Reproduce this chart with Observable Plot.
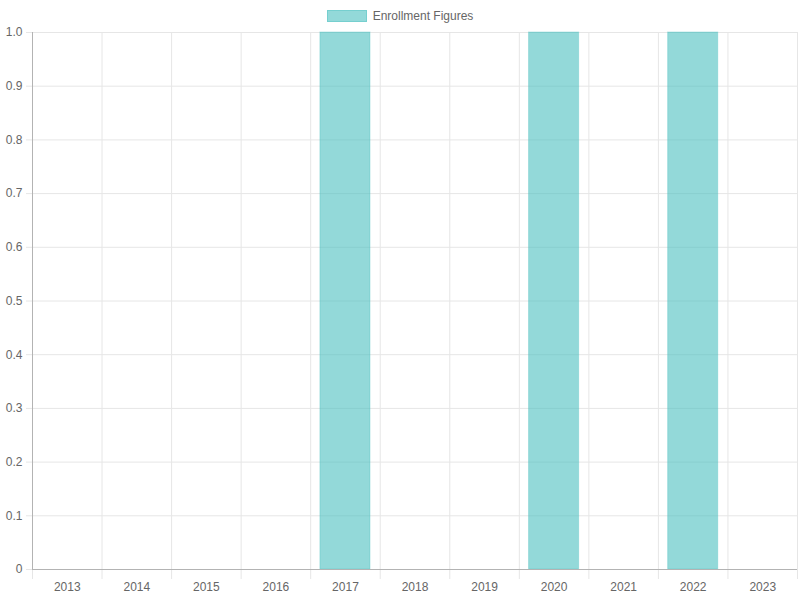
<!DOCTYPE html>
<html>
<head>
<meta charset="utf-8">
<script src="https://cdn.jsdelivr.net/npm/d3@7"></script>
<script src="https://cdn.jsdelivr.net/npm/@observablehq/plot@0.6"></script>
<style>
  html, body { margin: 0; padding: 0; background: #fff; }
  body { width: 800px; height: 600px; overflow: hidden; font-family: "Liberation Sans", Arial, sans-serif; }
  #legend { height: 24px; display: flex; justify-content: center; align-items: center; font-size: 12px; color: #666; padding-top: 8px; box-sizing: border-box; }
  #legend .sw { width: 40px; height: 12px; background: rgba(75,192,192,0.6); margin-right: 6px; box-sizing: border-box; border: 1px solid rgba(75,192,192,0.4); }
</style>
</head>
<body>
<div id="legend"><span class="sw"></span><span>Enrollment Figures</span></div>
<div id="chart"></div>
<script>
const years = [2013, 2014, 2015, 2016, 2017, 2018, 2019, 2020, 2021, 2022, 2023];
const values = [0, 0, 0, 0, 1, 0, 0, 1, 0, 1, 0];
const yTicks = [0, 0.1, 0.2, 0.3, 0.4, 0.5, 0.6, 0.7, 0.8, 0.9, 1.0];
const seriesName = "Enrollment Figures";

const data = years.map((y, i) => ({year: y, value: values[i]}));
const boundaries = years.map(y => y - 0.5).concat([years[years.length - 1] + 0.5]);
const barHalf = 0.36;
const gridColor = "#e6e6e6";
const axisColor = "#b3b3b3";

const chart = Plot.plot({
  width: 800,
  height: 576,
  marginTop: 8,
  marginBottom: 31,
  marginLeft: 32,
  marginRight: 3,
  style: {fontFamily: "'Liberation Sans', Arial, sans-serif", fontSize: "12px", color: "#666", background: "#fff"},
  x: {domain: [boundaries[0], boundaries[boundaries.length - 1]]},
  y: {domain: [0, 1]},
  marks: [
    Plot.ruleY(yTicks.filter(d => d !== 0), {stroke: gridColor, strokeWidth: 1}),
    Plot.ruleX(boundaries.slice(1), {y1: 0, y2: 1, stroke: gridColor, strokeWidth: 1}),
    Plot.axisY({ticks: yTicks, tickSize: 6, tickPadding: 4, stroke: gridColor, strokeOpacity: 1, tickFormat: d => d === 0 ? "0" : d.toFixed(1), label: null, fill: "#666"}),
    Plot.axisX({ticks: boundaries, tickSize: 10, tickFormat: () => "", stroke: gridColor, strokeOpacity: 1, label: null}),
    Plot.axisX({ticks: years, tickSize: 0, tickPadding: 13, tickFormat: d => String(d), label: null, fill: "#666"}),
    Plot.rectY(data, {x1: d => d.year - barHalf, x2: d => d.year + barHalf, y: "value", fill: "rgba(75,192,192,0.6)", stroke: "rgba(75,192,192,0.35)", strokeWidth: 1}),
    Plot.ruleX([boundaries[0]], {y1: 0, y2: 1, stroke: axisColor, strokeWidth: 1}),
    Plot.ruleY([0], {stroke: axisColor, strokeWidth: 1})
  ]
});
document.getElementById("chart").appendChild(chart);
</script>
</body>
</html>
